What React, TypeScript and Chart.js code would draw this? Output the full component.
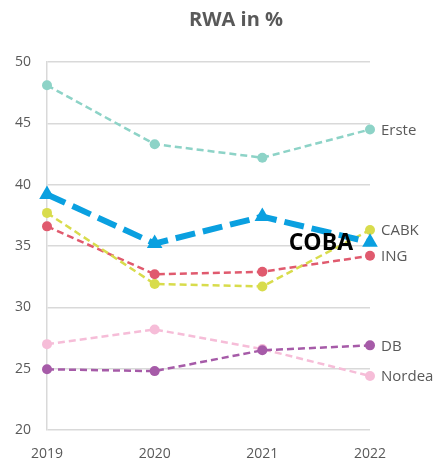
import React, { useEffect, useRef } from "react";
import { Chart, registerables } from "chart.js";

Chart.register(...registerables);

const years = ["2019", "2020", "2021", "2022"];
const erste = [48.1, 43.3, 42.2, 44.5];
const coba = [39.2, 35.2, 37.4, 35.3];
const cabk = [37.7, 31.9, 31.7, 36.3];
const ing = [36.6, 32.7, 32.9, 34.2];
const nordea = [27.0, 28.2, 26.6, 24.4];
const db = [24.95, 24.8, 26.5, 26.9];
const titleText = "RWA in %";

const FONT = "'Open Sans', 'DejaVu Sans', sans-serif";

const endLabels = {
  id: "endLabels",
  afterDatasetsDraw(chart: any) {
    const ctx = chart.ctx;
    ctx.save();
    chart.data.datasets.forEach((ds: any, i: number) => {
      const meta = chart.getDatasetMeta(i);
      const pt = meta.data[meta.data.length - 1];
      if (!pt) return;
      ctx.textBaseline = "middle";
      if (ds.label === "COBA") {
        ctx.font = `bold 23px ${FONT}`;
        ctx.fillStyle = "#000000";
        ctx.textAlign = "right";
        ctx.fillText(ds.label, pt.x - 17, pt.y + 1);
      } else {
        ctx.font = `15px ${FONT}`;
        ctx.fillStyle = "#595959";
        ctx.textAlign = "left";
        ctx.fillText(ds.label, pt.x + 11, pt.y + 1);
      }
    });
    ctx.font = `bold 20px ${FONT}`;
    ctx.fillStyle = "#595959";
    ctx.textAlign = "center";
    ctx.textBaseline = "middle";
    ctx.fillText(titleText, chart.width / 2 + 16, 20);
    ctx.restore();
  },
};

export default function App() {
  const ref = useRef<HTMLCanvasElement>(null);
  useEffect(() => {
    document.body.style.margin = "0";
    const line = (label: string, data: number[], color: string, extra: any = {}) => ({
      label,
      data,
      borderColor: color,
      backgroundColor: color,
      borderWidth: 2.5,
      borderDash: [7, 4],
      pointRadius: 5,
      pointHoverRadius: 5,
      pointBorderWidth: 0,
      tension: 0,
      ...extra,
    });
    const chart = new Chart(ref.current as HTMLCanvasElement, {
      type: "line",
      data: {
        labels: years,
        datasets: [
          line("COBA", coba, "#0aa0e0", {
            borderWidth: 6,
            borderDash: [20, 8],
            pointStyle: "triangle",
            pointRadius: 9,
            pointHoverRadius: 9,
          }),
          line("CABK", cabk, "#d8dc4c"),
          line("ING", ing, "#e05a6e"),
          line("Erste", erste, "#8dd3c7"),
          line("DB", db, "#a65ba8"),
          line("Nordea", nordea, "#f6bdd8"),
        ],
      },
      plugins: [endLabels],
      options: {
        animation: false,
        responsive: false,
        layout: { padding: { top: 62, right: 70, left: 13, bottom: 0 } },
        plugins: {
          legend: { display: false },
          title: { display: false },
          tooltip: { enabled: false },
        },
        scales: {
          x: {
            offset: false,
            grid: { display: false, drawTicks: false },
            border: { display: false },
            ticks: { color: "#595959", font: { family: FONT, size: 14 }, padding: 16 },
            afterFit: (s: any) => {
              s.height = 32;
            },
          },
          y: {
            min: 20,
            max: 50,
            ticks: { stepSize: 5, color: "#595959", font: { family: FONT, size: 14 }, padding: 16 },
            grid: { color: "#d9d9d9", lineWidth: 1.5, drawTicks: false },
            border: { display: true, color: "#d9d9d9", width: 1.5 },
            afterFit: (s: any) => {
              s.width = 34;
            },
          },
        },
      },
    });
    return () => chart.destroy();
  }, []);
  return <canvas ref={ref} width={440} height={462} style={{ display: "block" }} />;
}
